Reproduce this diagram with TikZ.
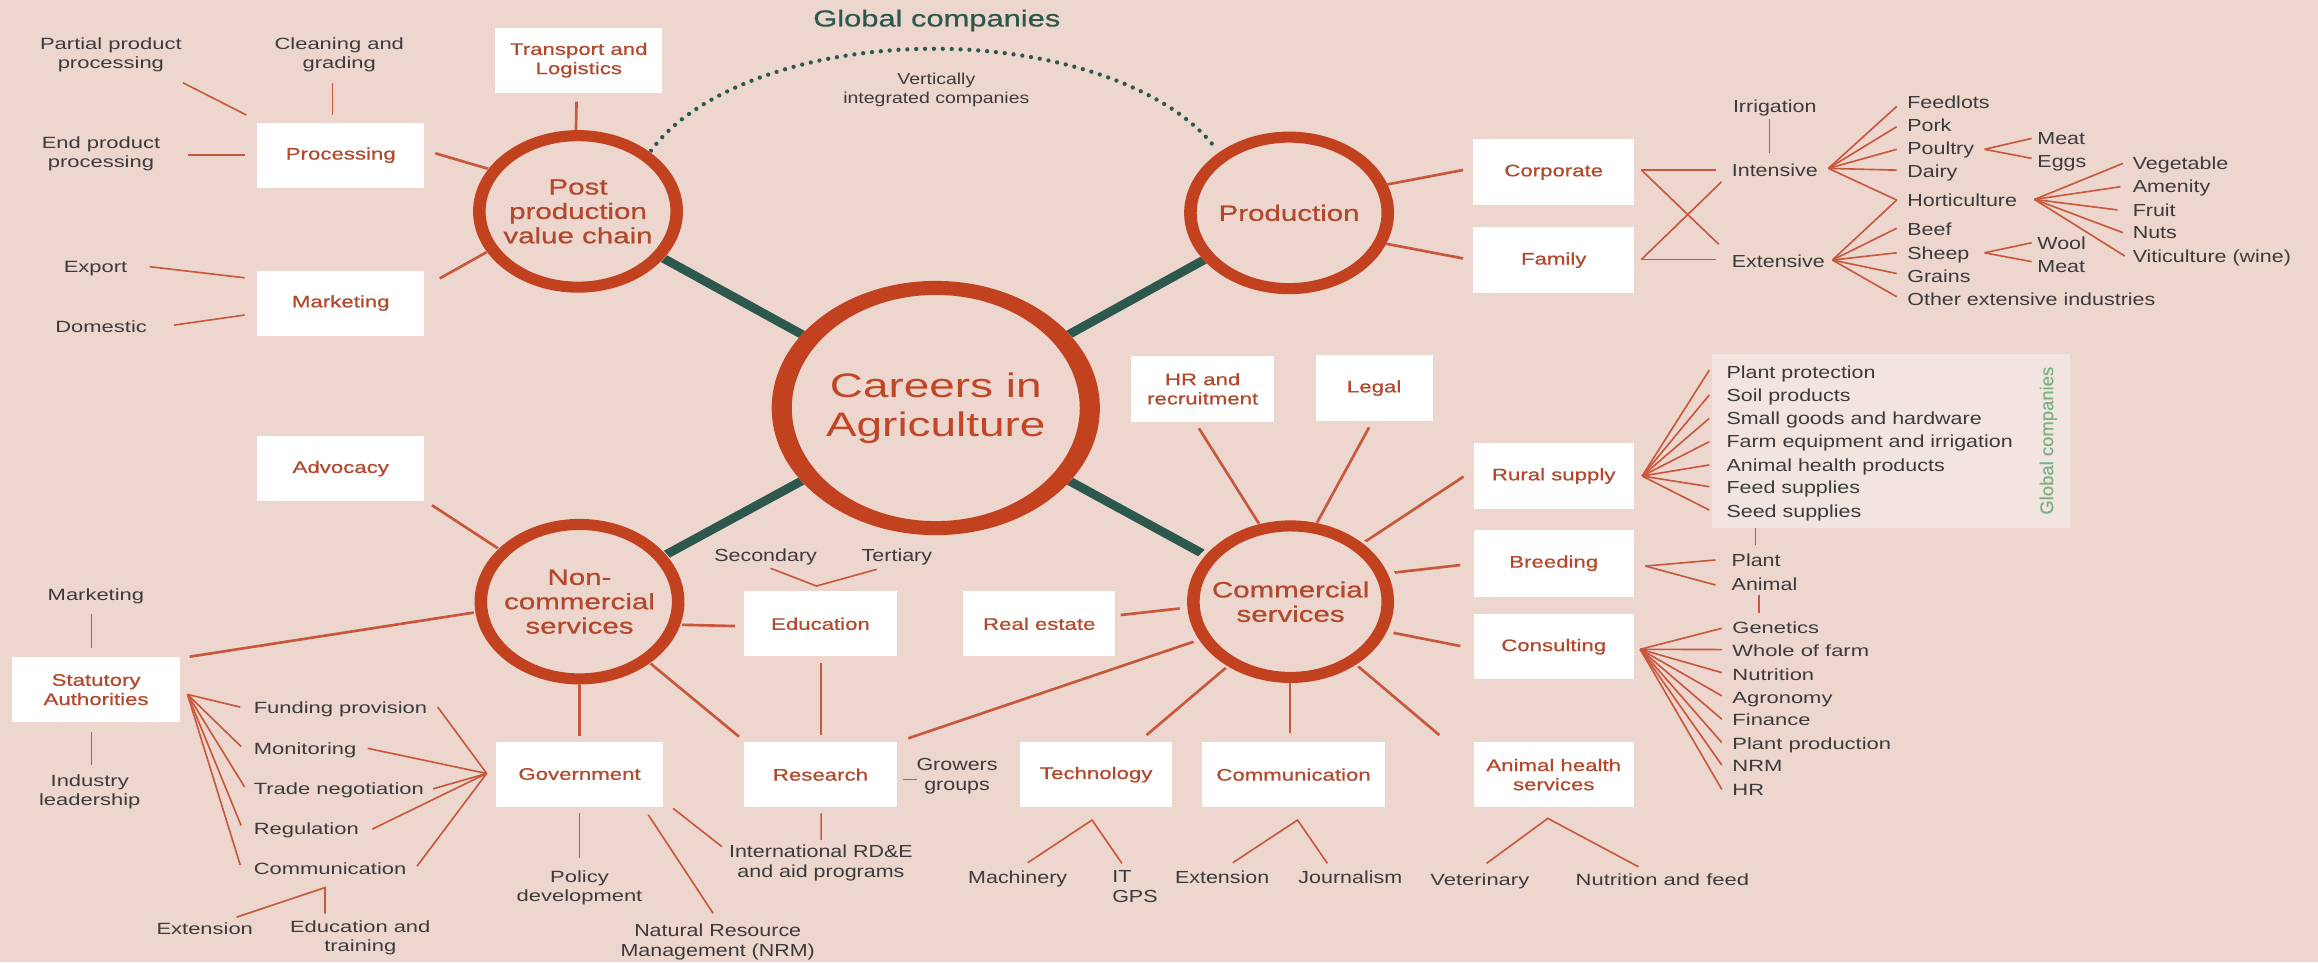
\documentclass[tikz,border=0pt]{standalone}
\usepackage{fontspec}
\setmainfont{Liberation Sans}[FakeStretch=1.35]
\newfontfamily\narrowfam{Liberation Sans}[FakeStretch=1.23]
\newfontfamily\medfam{Liberation Sans}[FakeStretch=1.33,FakeBold=0.7]
\newfontfamily\rotfam{Liberation Sans}[FakeBold=0.3]
\usetikzlibrary{calc,shapes.geometric}
\pgfdeclarelayer{bgl}
\pgfdeclarelayer{lines}
\pgfsetlayers{bgl,lines,main}
\definecolor{bgc}{RGB}{237,214,206}
\definecolor{ringc}{RGB}{194,66,32}
\definecolor{tealc}{RGB}{44,88,78}
\definecolor{boxtxt}{RGB}{178,72,44}
\definecolor{cartxt}{RGB}{192,70,38}
\definecolor{labtxt}{RGB}{60,58,58}
\definecolor{linec}{RGB}{200,88,60}
\definecolor{gboxc}{RGB}{242,229,224}
\definecolor{gtxt}{RGB}{120,176,138}
\newcommand{\agl}[5]{\draw[#1] ($(#2)+(#3)$) -- ($(#4)+(#5)$);}
\begin{document}
\begin{tikzpicture}[x=1pt,y=-1pt,
  box/.style={fill=white, text=boxtxt, font=\medfam\fontsize{11.3}{13}\selectfont, align=center, inner sep=0pt, minimum height=44pt},
  lab/.style={text=labtxt, font=\fontsize{11}{13}\selectfont, align=center, inner sep=0pt},
  nlab/.style={text=labtxt, font=\narrowfam\fontsize{11.8}{13.5}\selectfont, align=center, inner sep=0pt},
  lc/.style={lab, text height=8pt, text depth=0pt},
  wl/.style={lab, anchor=west, text height=8pt, text depth=0pt},
  rc/.style={nlab, text height=8.4pt, text depth=0pt},
  rl/.style={nlab, anchor=west, text height=8.4pt, text depth=0pt},
  ringnode/.style={ellipse, fill=bgc, inner sep=0pt, text=boxtxt, align=center, font=\medfam\fontsize{15}{16.5}\selectfont},
  arm/.style={draw=linec, line width=1.8pt},
  thin/.style={draw=linec, line width=1.1pt},
  spoke/.style={draw=tealc, line width=6pt},
  dots/.style={draw=tealc, line width=2.9pt, line cap=round, dash pattern=on 0pt off 6pt}
]
\begin{pgfonlayer}{bgl}
\fill[bgc] (0,0) rectangle (1568,651);
\end{pgfonlayer}
\useasboundingbox (0,0) rectangle (1568,651);

% ---------- rings ----------
\node[ringnode, minimum width=142pt, minimum height=110pt] (pp) at (391,143) {Post\\production\\value chain};
\node[ringnode, minimum width=142pt, minimum height=110pt] (prod) at (872,144) {Production};
\node[ringnode, minimum width=222pt, minimum height=172pt, text=cartxt, font=\fontsize{23}{26}\selectfont] (car) at (633,276) {Careers in\\Agriculture};
\node[ringnode, minimum width=142pt, minimum height=112pt] (nc) at (392,407) {Non-\\commercial\\services};
\node[ringnode, minimum width=140pt, minimum height=110pt] (cs) at (873,407) {Commercial\\services};
\fill[ringc, even odd rule] (pp.center) ellipse[x radius=71, y radius=55] (pp.center) ellipse[x radius=62.5, y radius=47.5];
\fill[ringc, even odd rule] (prod.center) ellipse[x radius=71, y radius=55] (prod.center) ellipse[x radius=62.5, y radius=47.5];
\fill[ringc, even odd rule] (nc.center) ellipse[x radius=71, y radius=56] (nc.center) ellipse[x radius=62.5, y radius=48.5];
\fill[ringc, even odd rule] (cs.center) ellipse[x radius=70, y radius=55] (cs.center) ellipse[x radius=61.5, y radius=47.5];
\fill[ringc, even odd rule] (car.center) ellipse[x radius=111, y radius=86] (car.center) ellipse[x radius=97.4, y radius=76.5];

% ---------- boxes ----------
\node[box, minimum width=113pt] (trans) at (391.5,40.7) {Transport and\\Logistics};
\node[box, minimum width=113pt] (proc) at (230.5,105) {Processing};
\node[box, minimum width=113pt] (mkt) at (230.5,205) {Marketing};
\node[box, minimum width=109pt, minimum height=45pt] (corp) at (1051,116.5) {Corporate};
\node[box, minimum width=109pt, minimum height=45pt] (fam) at (1051,176) {Family};
\node[box, minimum width=97pt, minimum height=45pt] (hr) at (813.5,263) {HR and\\recruitment};
\node[box, minimum width=79pt, minimum height=45pt] (legal) at (929.5,262.5) {Legal};
\node[box, minimum width=108pt, minimum height=45pt] (rural) at (1051,322) {Rural supply};
\node[box, minimum width=108pt, minimum height=45pt] (breed) at (1051,381) {Breeding};
\node[box, minimum width=108pt] (consult) at (1051,437.5) {Consulting};
\node[box, minimum width=108pt] (ahs) at (1051,524) {Animal health\\services};
\node[box, minimum width=113pt] (adv) at (230.5,317) {Advocacy};
\node[box, minimum width=114pt] (stat) at (65,466.5) {Statutory\\Authorities};
\node[box, minimum width=113pt] (gov) at (392,523.6) {Government};
\node[box, minimum width=104pt] (edu) at (555,422) {Education};
\node[box, minimum width=103pt] (re) at (703,422) {Real estate};
\node[box, minimum width=104pt] (res) at (555,524) {Research};
\node[box, minimum width=103pt] (tech) at (741.5,524) {Technology};
\node[box, minimum width=124pt] (comm) at (875,524) {Communication};
\node[fill=gboxc, minimum width=242pt, minimum height=118pt, inner sep=0pt] (gbox) at (1279.1,298.2) {};

% ---------- top labels ----------
\node[text=tealc, font=\medfam\fontsize{15.7}{18}\selectfont, inner sep=0pt, text height=11pt, text depth=0pt] (gc) at (633.7,12.4) {Global companies};
\node[nlab, font=\narrowfam\fontsize{10.7}{12.4}\selectfont] (vic) at (633.4,60.8) {Vertically\\integrated companies};

% ---------- post production labels ----------
\node[lab] (ppp) at (75,37) {Partial product\\processing};
\node[lab] (clg) at (229.5,37) {Cleaning and\\grading};
\node[lab] (epp) at (68.3,104) {End product\\processing};
\node[lc] (exp) at (64.6,180.4) {Export};
\node[lc] (dom) at (68.4,220.6) {Domestic};

% ---------- production tree ----------
\node[rc] (irr) at (1200.5,71.7) {Irrigation};
\node[rl] (int) at (1171.3,115) {Intensive};
\node[rl] (ext) at (1171.3,176.6) {Extensive};
\node[rl] (feed) at (1290,69.5) {Feedlots};
\node[rl] (pork) at (1290,85) {Pork};
\node[rl] (poul) at (1290,100.3) {Poultry};
\node[rl] (dairy) at (1290,116.1) {Dairy};
\node[rl] (hort) at (1290,135.8) {Horticulture};
\node[rl] (beef) at (1290,155.2) {Beef};
\node[rl] (sheep) at (1290,171) {Sheep};
\node[rl] (grain) at (1290,186.7) {Grains};
\node[rl] (other) at (1290,202.5) {Other extensive industries};
\node[rl] (meat) at (1378,93.6) {Meat};
\node[rl] (eggs) at (1378,109.4) {Eggs};
\node[rl] (veg) at (1442.5,110.5) {Vegetable};
\node[rl] (amen) at (1442.5,126.3) {Amenity};
\node[rl] (fruit) at (1442.5,142) {Fruit};
\node[rl] (nuts) at (1442.5,157.4) {Nuts};
\node[rl] (viti) at (1442.5,173.2) {Viticulture (wine)};
\node[rl] (wool) at (1378,164.6) {Wool};
\node[rl] (meatb) at (1378,180.4) {Meat};

% ---------- rural supply / breeding / consulting ----------
\node[rl] (pprot) at (1167.7,251.9) {Plant protection};
\node[rl] (soil) at (1167.7,267.7) {Soil products};
\node[rl] (small) at (1167.7,283) {Small goods and hardware};
\node[rl] (farm) at (1167.7,298.8) {Farm equipment and irrigation};
\node[rl] (ahp) at (1167.7,314.5) {Animal health products};
\node[rl] (feeds) at (1167.7,329.9) {Feed supplies};
\node[rl] (seed) at (1167.7,345.7) {Seed supplies};
\node[rotate=90, text=gtxt, font=\rotfam\fontsize{12.5}{14}\selectfont, inner sep=0pt] (gvert) at (1385.6,298.1) {Global companies};
\node[rl] (plant) at (1171.2,379.3) {Plant};
\node[rl] (animal) at (1171.2,395) {Animal};
\node[wl] (gen) at (1171.7,424.6) {Genetics};
\node[wl] (whole) at (1171.7,440.4) {Whole of farm};
\node[wl] (nutr) at (1171.7,456) {Nutrition};
\node[wl] (agro) at (1171.7,471.7) {Agronomy};
\node[wl] (fin) at (1171.7,487) {Finance};
\node[wl] (plp) at (1171.7,503.3) {Plant production};
\node[wl] (nrmb) at (1171.7,518.2) {NRM};
\node[wl] (hrb) at (1171.7,534) {HR};

% ---------- bottom labels ----------
\node[lc] (vet) at (1001,595.3) {Veterinary};
\node[lc] (nf) at (1124.5,595.3) {Nutrition and feed};
\node[rc] (extb) at (826.7,593.5) {Extension};
\node[rc] (jour) at (913.4,593.5) {Journalism};
\node[rc] (mach) at (688.4,593.5) {Machinery};
\node[nlab, anchor=west, align=left] (itgps) at (752.2,600) {IT\\GPS};
\node[rc] (sec) at (517.9,375.4) {Secondary};
\node[rc] (ter) at (606.7,375.4) {Tertiary};
\node[nlab] (grow) at (647.4,525) {Growers\\groups};
\node[nlab] (intl) at (555.3,583.8) {International RD\&E\\and aid programs};
\node[nlab] (nrm) at (485.5,637) {Natural Resource\\Management (NRM)};
\node[lab] (pol) at (392,600.3) {Policy\\development};
\node[lc] (mkb) at (64.9,402.5) {Marketing};
\node[lab] (ind) at (60.7,535.4) {Industry\\leadership};
\node[wl] (fund) at (171.5,478.3) {Funding provision};
\node[wl] (mon) at (171.5,506.2) {Monitoring};
\node[wl] (trade) at (171.5,533.4) {Trade negotiation};
\node[wl] (reg) at (171.5,560.8) {Regulation};
\node[wl] (commb) at (171.5,587.6) {Communication};
\node[lc] (extc) at (138.5,628.1) {Extension};
\node[lab] (edt) at (243.7,634.5) {Education and\\training};

% ---------- connectors ----------
\begin{pgfonlayer}{lines}
\draw[spoke] (car.center) -- (pp.center);
\draw[spoke] (car.center) -- (prod.center);
\draw[spoke] (car.center) -- (nc.center);
\draw[spoke] (car.center) -- (cs.center);
\draw[dots] ($(pp)+(49.3,-41)$) arc[start angle=200.8, end angle=338, x radius=205, y radius=107];

% post production
\agl{arm}{trans}{-1.5,28}{pp}{-1.5,-50}
\agl{arm}{proc}{64,-1.3}{pp}{-57,-27.7}
\agl{arm}{mkt}{67,-16.7}{pp}{-59,26}
\agl{thin}{ppp}{48.8,19}{proc}{-63.8,-27.2}
\agl{thin}{clg}{-4.5,19}{proc}{-5.5,-27.2}
\agl{thin}{epp}{58.6,0.9}{proc}{-65,-0.1}
\agl{thin}{exp}{36.6,0}{mkt}{-65,-17.1}
\agl{thin}{dom}{49.4,-0.7}{mkt}{-65,8.1}

% production
\agl{arm}{prod}{63,-18.6}{corp}{-61.3,-1.5}
\agl{arm}{prod}{63,20.4}{fam}{-61.3,-1.2}
\agl{thin}{corp}{59.3,-1.5}{int.west}{-10.4,0}
\agl{thin}{corp}{59.3,-1.5}{ext.west}{-8.6,-11.3}
\agl{thin}{fam}{59.3,-0.5}{ext.west}{-10.4,-1.1}
\agl{thin}{fam}{59.3,-0.5}{int.west}{-6.7,7.9}
\agl{thin}{irr}{-3.5,9}{int.west}{25.7,-11.7}
\foreach \t/\dy in {feed/2.5,pork/0.7,poul/0.7,dairy/-1,hort/-0.5}
  \draw[thin] ($(int.west)+(65.5,-1.1)$) -- ($(\t.west)+(-7,\dy)$);
\foreach \t/\dy in {hort/-0.5,beef/-0.8,sheep/0,grain/-1.7,other/-1.8}
  \draw[thin] ($(ext.west)+(68.2,-0.7)$) -- ($(\t.west)+(-7,\dy)$);
\foreach \t/\dy in {meat/0,eggs/-2.3}
  \draw[thin] ($(poul.west)+(52.4,0.7)$) -- ($(\t.west)+(-3.7,\dy)$);
\foreach \t/\dx in {veg/-6.4,amen/-8.2,fruit/-10.1,nuts/-6.4,viti/-5.2}
  \draw[thin] ($(hort.west)+(86.2,-0.9)$) -- ($(\t.west)+(\dx,0)$);
\foreach \t/\dy in {wool/-0.4,meatb/-3.4}
  \draw[thin] ($(sheep.west)+(52.4,0)$) -- ($(\t.west)+(-3.7,\dy)$);

% commercial
\agl{arm}{hr}{-2.5,26.7}{cs}{-19,-49}
\agl{arm}{legal}{-3.4,26.6}{cs}{16,-50}
\agl{arm}{rural}{-61,0.4}{cs}{48,-39}
\agl{arm}{breed}{-63.2,1.2}{cs}{64,-19}
\agl{arm}{consult}{-63.2,-0.5}{cs}{64,20}
\agl{arm}{re}{55.1,-6}{cs}{-65,3.5}
\agl{arm}{res}{59.4,-24.6}{cs}{-58,24.5}
\agl{arm}{tech}{34.1,-26.8}{cs}{-40,41.5}
\agl{arm}{comm}{-2.4,-28}{cs}{-0.4,51}
\agl{arm}{ahs}{-77.4,-26.8}{cs}{43,41.5}
\foreach \t/\dy in {pprot/-1.5,soil/-0.5,small/0,farm/0,ahp/0,feeds/-0.7,seed/-0.7}
  \draw[thin] ($(rural)+(59.8,0)$) -- ($(\t.west)+(-11.5,\dy)$);
\agl{thin}{seed.west}{19.9,7.2}{plant.west}{16.4,-10.6}
\foreach \t/\dy in {plant/-0.5,animal/0.7}
  \draw[thin] ($(breed)+(62,1.9)$) -- ($(\t.west)+(-10.8,\dy)$);
\agl{thin}{animal.west}{18.5,7.5}{gen.west}{18,-9.7}
\foreach \t/\dy in {gen/0.4,whole/-1,nutr/-1,agro/-1,fin/-0.5,plp/-1,nrmb/-0.7,hrb/0}
  \draw[thin] ($(consult)+(58.5,1.7)$) -- ($(\t.west)+(-7,\dy)$);
\draw[thin] ($(vet)+(4.6,-11.3)$) -- ($(ahs)+(-4,29.6)$) -- ($(nf)+(-16.2,-9)$);
\draw[thin] ($(extb)+(7.2,-9.9)$) -- ($(comm)+(2.7,30.7)$) -- ($(jour)+(-15.5,-9.5)$);
\draw[thin] ($(mach)+(6.8,-9.9)$) -- ($(tech)+(-2.8,30.7)$) -- ($(itgps.west)+(6.7,-16)$);

% research / education
\agl{thin}{edu}{0.4,26.7}{res}{0.4,-26.8}
\agl{thin}{res}{0.4,26.2}{intl}{0.1,-15.6}
\agl{thin}{res}{55.6,3.2}{grow}{-27.1,2.2}
\draw[thin] ($(sec)+(3.3,9)$) -- ($(edu)+(-2.7,-25.6)$) -- ($(ter)+(-13.6,9.7)$);

% non-commercial
\agl{arm}{adv}{61.8,24.8}{nc}{-52,-34}
\agl{arm}{edu}{-57.8,1.5}{nc}{64,15.5}
\agl{arm}{stat}{63.3,-22.3}{nc}{-66,6.5}
\agl{arm}{gov}{0,-25.9}{nc}{0,51}
\agl{arm}{res}{-55.1,-25.7}{nc}{44,38.5}
\agl{thin}{mkb}{-3,12.5}{stat}{-3.1,-28.3}
\agl{thin}{stat}{-3.1,28.7}{ind}{1.2,-18.2}
\foreach \t/\dx/\dy in {fund/-9/0,mon/-8.4/-1.2,trade/-6/-1,reg/-8.4/-2.4,commb/-9/-2.5}
  \draw[thin] ($(stat)+(61.8,3.2)$) -- ($(\t.west)+(\dx,\dy)$);
\foreach \t/\dx/\dy in {fund/7/0,mon/7.5/0,trade/6/0.2,reg/9/0,commb/7/-1.7}
  \draw[thin] ($(gov)+(-62.8,-0.4)$) -- ($(\t.east)+(\dx,\dy)$);
\draw[thin] ($(extc)+(21.5,-7.7)$) -- ($(commb.west)+(48.3,12.8)$) -- ($(edt)+(-23.9,-16.5)$);
\agl{thin}{gov}{0,26.3}{pol}{0,-20}
\agl{thin}{gov}{46.5,27.5}{nrm}{-3.1,-19.2}
\agl{thin}{gov}{63.3,23.2}{intl}{-67,-11.1}
\end{pgfonlayer}
\end{tikzpicture}
\end{document}
